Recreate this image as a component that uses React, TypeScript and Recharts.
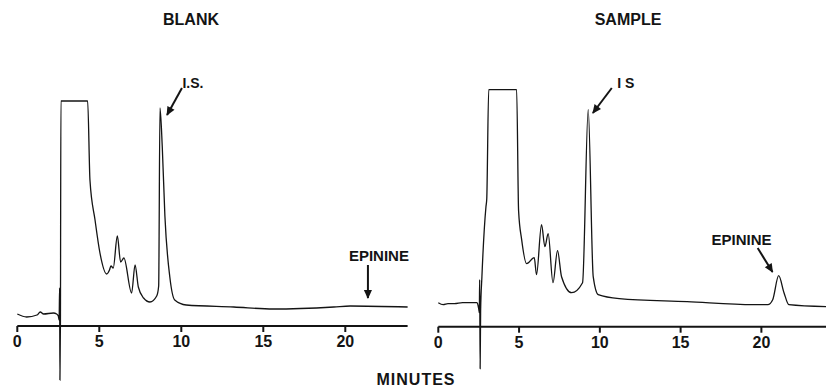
import { LineChart, Line, XAxis, YAxis, ReferenceLine, ReferenceDot } from "recharts";

// retention time (minutes) and detector signal
const blankTime = [
  0, 0.57, 1.2, 1.4, 1.6, 2.2, 2.4, 2.5, 2.55, 2.58, 2.6, 2.63, 2.66, 4.29, 4.43, 4.74, 5.04,
  5.45, 5.62, 5.71, 5.85, 6.1, 6.3, 6.5, 6.97, 7.18, 7.38, 7.7, 8.09, 8.5, 8.62, 8.7, 8.84, 9.0,
  9.3, 9.6, 10.3, 13.2, 15.6, 19.3, 20.3, 23.8,
];
const blankSignal = [
  12, 9, 11, 14, 12, 13, 12, 10, 6, 38, -54, 4, 225, 225, 146, 106, 73,
  52, 56, 60, 58, 90, 64, 68, 33, 61, 39, 28, 24, 30, 40, 218, 179, 110,
  49, 26, 21, 19, 17, 19, 20, 19,
];

const sampleTime = [
  0, 0.3, 0.6, 1.0, 1.5, 2.0, 2.4, 2.5, 2.54, 2.56, 2.59, 2.62, 2.7, 2.95, 3.0, 3.12, 4.85,
  4.97, 5.16, 5.47, 5.94, 6.08, 6.39, 6.6, 6.8, 7.1, 7.38, 7.63, 8.25, 8.93, 9.28, 9.59, 9.9,
  11.2, 15.4, 19.5, 20.4, 20.7, 21.07, 21.4, 21.7, 24,
];
const sampleSignal = [
  24, 22, 23, 23, 24, 24, 24, 18, 14, 47, -42, 16, 50, 120, 128, 237, 237,
  116, 87, 63, 69, 52, 102, 80, 93, 44, 76, 50, 34, 44, 217, 50, 32,
  28, 25, 22, 22, 27, 51, 34, 22, 20,
];

const tickMinutes = [0, 5, 10, 15, 20];
const panelTitles = ["BLANK", "SAMPLE"];
const isLabels = ["I.S.", "I S"];
const analyteLabel = "EPININE";
const axisTitle = "MINUTES";

const Y_DOMAIN: [number, number] = [-60, 260];
const INK = "#141414";
const FONT = "'Liberation Sans', Arial, sans-serif";

const blankData = blankTime.map((t, i) => ({ t, v: blankSignal[i] }));
const sampleData = sampleTime.map((t, i) => ({ t, v: sampleSignal[i] }));

type Arrow = { from: [number, number]; to: [number, number] };
type Note = { at: [number, number]; text: string; size: number };

type PanelProps = {
  data: { t: number; v: number }[];
  left: number;
  width: number;
  originPx: number;
  pxPerMin: number;
  axisY: number;
  xMax: number;
  arrows: Arrow[];
  notes: Note[];
};

function Panel({ data, left, width, originPx, pxPerMin, axisY, xMax, arrows, notes }: PanelProps) {
  const plotH = Y_DOMAIN[1] - Y_DOMAIN[0];
  const top = axisY - Y_DOMAIN[1];
  const plotW = xMax * pxPerMin;
  const margin = {
    top,
    bottom: 388 - top - plotH,
    left: originPx,
    right: Math.max(0, width - originPx - plotW),
  };

  return (
    <div style={{ position: "absolute", left, top: 0 }}>
      <LineChart width={width} height={388} data={data} margin={margin}>
        <XAxis type="number" dataKey="t" domain={[0, xMax]} hide />
        <YAxis type="number" domain={Y_DOMAIN} hide />

        {/* baseline axis at zero signal */}
        <ReferenceLine y={0} stroke={INK} strokeWidth={2} />
        {tickMinutes.map((m) => (
          <ReferenceLine
            key={m}
            segment={[
              { x: m, y: 0 },
              { x: m, y: -6 },
            ]}
            stroke={INK}
            strokeWidth={2}
            label={{
              value: String(m),
              position: "bottom",
              offset: 4,
              fill: INK,
              fontSize: 16,
              fontWeight: 700,
              fontFamily: FONT,
            }}
          />
        ))}

        {/* annotation arrows */}
        {arrows.map((a, i) => (
          <ReferenceLine
            key={"a" + i}
            segment={[
              { x: a.from[0], y: a.from[1] },
              { x: a.to[0], y: a.to[1] },
            ]}
            stroke={INK}
            strokeWidth={2}
            markerEnd="url(#arrowHead)"
          />
        ))}
        {notes.map((n, i) => (
          <ReferenceDot
            key={"n" + i}
            x={n.at[0]}
            y={n.at[1]}
            r={0}
            fill="none"
            stroke="none"
            label={{
              value: n.text,
              position: "center",
              fill: INK,
              fontSize: n.size,
              fontWeight: 700,
              fontFamily: FONT,
            }}
          />
        ))}

        <Line
          type="monotoneX"
          dataKey="v"
          stroke={INK}
          strokeWidth={1.3}
          dot={false}
          isAnimationActive={false}
        />
      </LineChart>
    </div>
  );
}

export default function App() {
  return (
    <div
      style={{
        position: "fixed",
        left: 0,
        top: 0,
        width: 826,
        height: 388,
        background: "#fff",
        overflow: "hidden",
        fontFamily: FONT,
      }}
    >
      <svg width={0} height={0} style={{ position: "absolute" }}>
        <defs>
          <marker
            id="arrowHead"
            viewBox="0 0 10 10"
            refX={9}
            refY={5}
            markerWidth={10}
            markerHeight={9}
            markerUnits="userSpaceOnUse"
            orient="auto"
          >
            <path d="M0,0.5 L10,5 L0,9.5 z" fill={INK} />
          </marker>
        </defs>
      </svg>

      <Panel
        data={blankData}
        left={0}
        width={420}
        originPx={17.3}
        pxPerMin={16.4}
        axisY={326}
        xMax={23.8}
        arrows={[
          { from: [10.04, 238], to: [9.13, 211] },
          { from: [21.38, 61], to: [21.38, 28] },
        ]}
        notes={[
          { at: [10.71, 243], text: isLabels[0], size: 14 },
          { at: [22.05, 70], text: analyteLabel, size: 15 },
        ]}
      />
      <Panel
        data={sampleData}
        left={420}
        width={406}
        originPx={18.3}
        pxPerMin={16.17}
        axisY={326.7}
        xMax={24}
        arrows={[
          { from: [10.74, 238.7], to: [9.57, 213.7] },
          { from: [19.77, 78.7], to: [20.69, 54.7] },
        ]}
        notes={[
          { at: [11.6, 243.7], text: isLabels[1], size: 14 },
          { at: [18.77, 86.7], text: analyteLabel, size: 15 },
        ]}
      />

      {panelTitles.map((t, i) => (
        <div
          key={t}
          style={{
            position: "absolute",
            left: i === 0 ? 191 : 628,
            top: 11,
            transform: "translateX(-50%)",
            fontSize: 16,
            fontWeight: 700,
            color: INK,
            lineHeight: "18px",
          }}
        >
          {t}
        </div>
      ))}
      <div
        style={{
          position: "absolute",
          left: 416,
          top: 371,
          transform: "translateX(-50%)",
          fontSize: 16,
          fontWeight: 700,
          letterSpacing: 1,
          color: INK,
          lineHeight: "18px",
        }}
      >
        {axisTitle}
      </div>
    </div>
  );
}
